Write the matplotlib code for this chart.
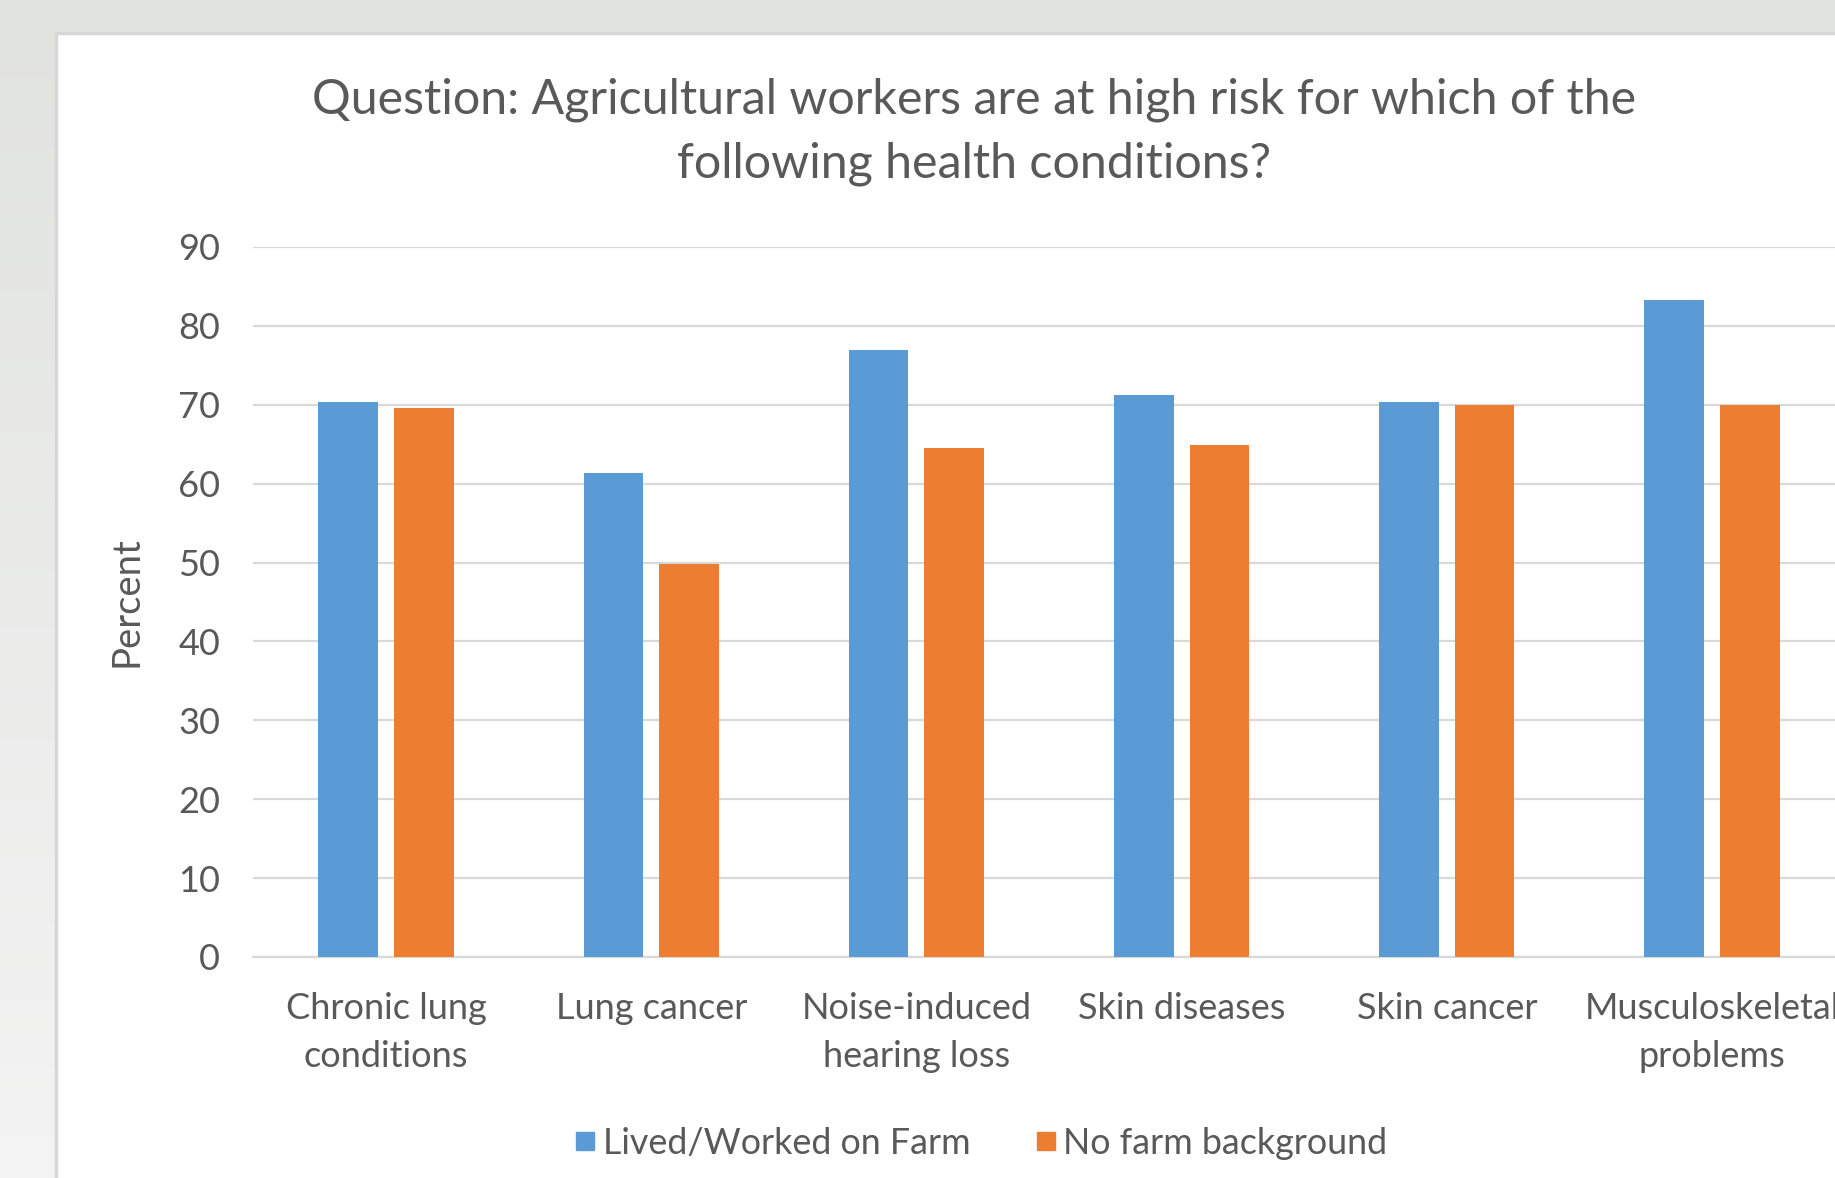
import numpy as np
import matplotlib
matplotlib.use("Agg")
import matplotlib.pyplot as plt
from matplotlib.patches import Rectangle
from matplotlib.lines import Line2D

# data
categories = ["Chronic lung\nconditions", "Lung cancer", "Noise-induced\nhearing loss",
              "Skin diseases", "Skin cancer", "Musculoskeletal\nproblems"]
farm = [70.4, 61.4, 77.0, 71.3, 70.3, 83.3]
no_farm = [69.6, 49.8, 64.5, 64.9, 70.0, 70.0]
series_names = ["Lived/Worked on Farm", "No farm background"]
yticks = [0, 10, 20, 30, 40, 50, 60, 70, 80, 90]

blue = "#5b9bd5"
orange = "#ed7d31"
txt = "#595959"
grid = "#d9d9d9"

plt.rcParams['font.family'] = ['Lato', 'DejaVu Sans']

W, H = 1835, 1178
fig = plt.figure(figsize=(W / 100, H / 100), dpi=100)

# grey slide background with a soft vertical fade
bg = fig.add_axes([0, 0, 1, 1], zorder=-10)
top = np.array([0.882, 0.890, 0.875])
bot = np.array([0.955, 0.955, 0.955])
g = np.linspace(0, 1, 256)[:, None, None]
bg.imshow(top * (1 - g) + bot * g, aspect='auto', extent=[0, 1, 0, 1])
bg.add_patch(Rectangle((56 / W, -0.01), 1.0, (H - 33) / H + 0.01,
                       facecolor='white', edgecolor='#d6d6d6', lw=2.5))
bg.set_xlim(0, 1)
bg.set_ylim(0, 1)
bg.axis('off')

# plot area (runs off the right edge like the screenshot)
ax = fig.add_axes([253.4 / W, 1 - 957 / H, 1591.2 / W, 710 / H])
x = np.arange(len(categories))
bw = 0.225
off = 0.1425
ax.bar(x - off, farm, bw, color=blue, zorder=3)
ax.bar(x + off, no_farm, bw, color=orange, zorder=3)

ax.set_xlim(-0.5, len(categories) - 0.5)
ax.set_ylim(0, 90)
ax.set_yticks(yticks)
ax.set_xticks(x)
ax.set_xticklabels(categories, linespacing=1.56)
ax.yaxis.grid(True, color=grid, lw=1.6, zorder=0)
ax.set_axisbelow(True)
for s in ['top', 'right', 'left']:
    ax.spines[s].set_visible(False)
ax.spines['bottom'].set_color(grid)
ax.spines['bottom'].set_linewidth(1.6)
ax.tick_params(axis='both', length=0, colors=txt)
ax.tick_params(axis='y', pad=24, labelsize=26)
ax.tick_params(axis='x', pad=25, labelsize=26)
ax.set_ylabel("Percent", color=txt, fontsize=27.5, labelpad=24)

fig.text(973.7 / W, 1 - 132 / H,
         "Question: Agricultural workers are at high risk for which of the\nfollowing health conditions?",
         ha='center', va='center', color=txt, fontsize=34.8, linespacing=1.55)

handles = [Line2D([], [], marker='s', ls='none', color=c, markersize=13.5)
           for c in (blue, orange)]
fig.legend(handles, series_names, loc='center', bbox_to_anchor=(979 / W, 1 - 1143 / H),
           ncol=2, frameon=False, fontsize=25.8, labelcolor=txt,
           handletextpad=0.1, columnspacing=1.7, handlelength=0.8)

fig.savefig("out.png", dpi=100)
